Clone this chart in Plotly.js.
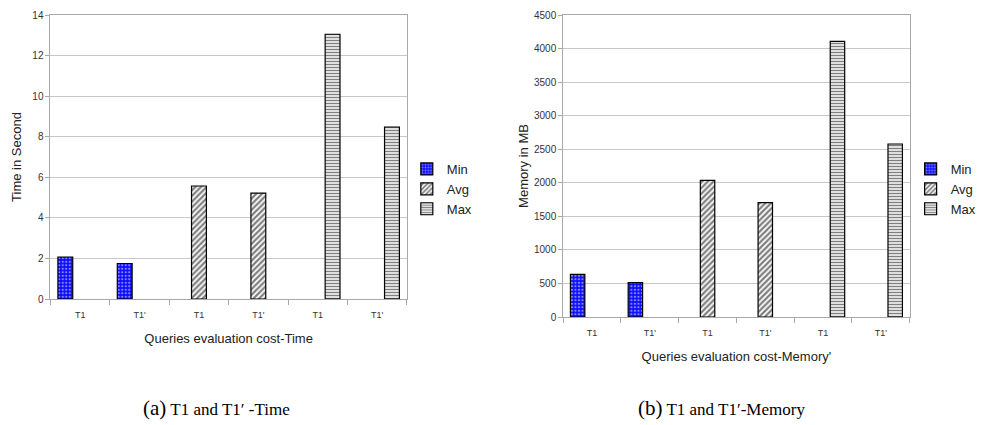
<!DOCTYPE html>
<html><head><meta charset="utf-8">
<script src="https://cdn.plot.ly/plotly-3.0.1.min.js"></script>
<style>html,body{margin:0;padding:0;background:#fff}#chart{width:982px;height:425px}</style>
</head><body><div id="chart"></div>
<script>
// Categories (tick labels) shared by both charts
const categories = ["T1", "T1'", "T1", "T1'", "T1", "T1'"];
const seriesNames = ["Min", "Avg", "Max"];
// (a) Time in seconds
const timeMin = [2.07, 1.75, null, null, null, null];
const timeAvg = [null, null, 5.57, 5.22, null, null];
const timeMax = [null, null, null, null, 13.05, 8.48];
// (b) Memory in MB
const memMin = [636, 511, null, null, null, null];
const memAvg = [null, null, 2037, 1703, null, null];
const memMax = [null, null, null, null, 4108, 2578];

const xpos = categories.map((c, i) => i);
const FONT = "Liberation Sans, Arial, sans-serif";

const styles = {
  Min: {color: "#0a0aff", pattern: {shape: ".", fgcolor: "#ffffff", bgcolor: "#0a0aff", size: 3.5, solidity: 0.35, fillmode: "overlay"}},
  Avg: {color: "#ffffff", pattern: {shape: "/", fgcolor: "#000000", bgcolor: "#ffffff", size: 4, solidity: 0.55, fillmode: "overlay"}},
  Max: {color: "#ffffff", pattern: {shape: "-", fgcolor: "#000000", bgcolor: "#ffffff", size: 3, solidity: 0.5, fillmode: "overlay"}}
};

function mk(name, y, xa, ya, leg) {
  const s = styles[name];
  return {
    type: "bar", name: name, x: xpos, y: y, xaxis: xa, yaxis: ya, legend: leg,
    marker: {color: s.color, pattern: s.pattern, line: {color: "#000", width: 1.2}},
    hoverinfo: "y"
  };
}

const data = [
  mk("Min", timeMin, "x", "y", "legend"),
  mk("Avg", timeAvg, "x", "y", "legend"),
  mk("Max", timeMax, "x", "y", "legend"),
  mk("Min", memMin, "x2", "y2", "legend2"),
  mk("Avg", memAvg, "x2", "y2", "legend2"),
  mk("Max", memMax, "x2", "y2", "legend2")
];

function xaxis(domain, anchor, title) {
  return {
    domain: domain, anchor: anchor, range: [-0.5, 5.5],
    tickmode: "array", tickvals: xpos, ticktext: categories,
    ticks: "outside", ticklen: 7, tickcolor: "rgba(0,0,0,0)",
    minor: {ticks: "outside", ticklen: 5, tickcolor: "#a8a8a8", tick0: 0.5, dtick: 1, showgrid: false},
    showline: true, linecolor: "#a8a8a8", linewidth: 1, mirror: true,
    showgrid: false, zeroline: false,
    tickfont: {family: FONT, size: 9, color: "#333"},
    title: {text: title, font: {family: FONT, size: 13, color: "#222"}, standoff: 15}
  };
}
function yaxis(domain, anchor, range, dtick, title, standoff) {
  return {
    domain: domain, anchor: anchor, range: range, dtick: dtick,
    ticks: "outside", ticklen: 4, tickcolor: "#a8a8a8",
    showline: true, linecolor: "#a8a8a8", linewidth: 1, mirror: true,
    showgrid: true, gridcolor: "#c8c8c8", gridwidth: 1, zeroline: false,
    tickfont: {family: FONT, size: 10, color: "#333"},
    title: {text: title, font: {family: FONT, size: 13, color: "#222"}, standoff: standoff}
  };
}

const W = 982, H = 425;
const layout = {
  width: W, height: H,
  margin: {l: 0, r: 0, t: 0, b: 0},
  paper_bgcolor: "#fff", plot_bgcolor: "#fff",
  barmode: "group", bargap: 0.25, bargroupgap: 0,
  showlegend: true,
  xaxis: xaxis([51 / W, 411 / W], "y", "Queries evaluation cost-Time"),
  yaxis: yaxis([1 - 299 / H, 1 - 15 / H], "x", [0, 14], 2, "Time in Second", 7),
  xaxis2: xaxis([569 / W, 919 / W], "y2", "Queries evaluation cost-Memory'"),
  yaxis2: yaxis([1 - 317 / H, 1 - 15 / H], "x2", [0, 4500], 500, "Memory in MB", 2),
  legend: {x: 411 / W, y: 1 - 154 / H, xanchor: "left", yanchor: "top", bgcolor: "rgba(0,0,0,0)",
           font: {family: FONT, size: 13, color: "#222"}, itemwidth: 30, tracegroupgap: 0},
  legend2: {x: 920 / W, y: 1 - 154 / H, xanchor: "left", yanchor: "top", bgcolor: "rgba(0,0,0,0)",
            font: {family: FONT, size: 13, color: "#222"}, itemwidth: 30, tracegroupgap: 0},
  annotations: [
    {xref: "paper", yref: "paper", x: 219 / W, y: 1 - 408 / H, xanchor: "center", yanchor: "middle", showarrow: false,
     text: "<span style=\"font-size:21px\">(a)</span> T1 and T1\u2032 -Time",
     font: {family: "Liberation Serif, Times New Roman, serif", size: 17, color: "#000"}},
    {xref: "paper", yref: "paper", x: 729 / W, y: 1 - 408 / H, xanchor: "center", yanchor: "middle", showarrow: false,
     text: "<span style=\"font-size:21px\">(b)</span> T1 and T1\u2032-Memory",
     font: {family: "Liberation Serif, Times New Roman, serif", size: 17, color: "#000"}}
  ]
};

Plotly.newPlot("chart", data, layout, {displayModeBar: false, staticPlot: true});
</script></body></html>
